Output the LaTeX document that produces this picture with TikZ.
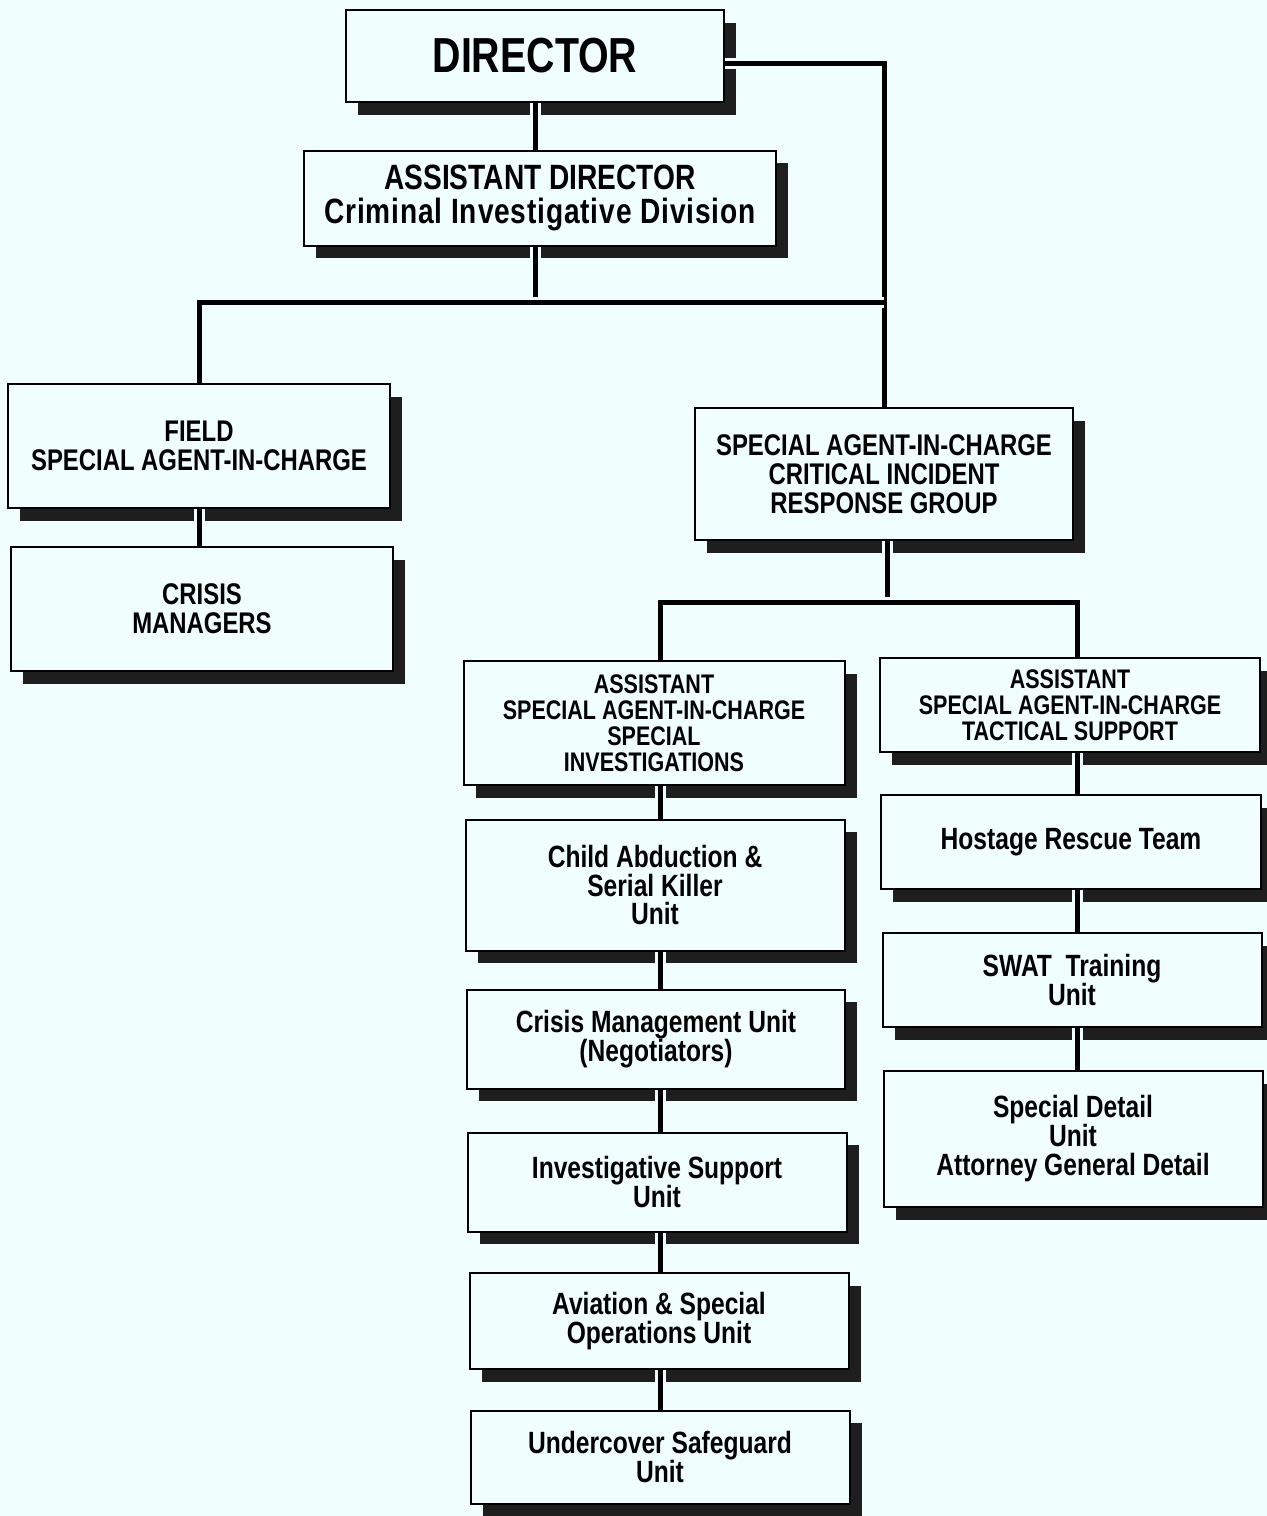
\documentclass[tikz,border=0pt]{standalone}
\usepackage{fontspec}
\setmainfont{Liberation Sans}[FakeStretch=0.8]
\usetikzlibrary{shadows}
\definecolor{paper}{RGB}{240,254,254}
\definecolor{shade}{RGB}{30,30,30}

\tikzset{
  orgbox/.style 2 args={draw, line width=0.04cm, fill=paper, align=center, inner sep=0pt,
    minimum width={#1*0.02cm}, minimum height={#2*0.02cm},
    drop shadow={shadow xshift=0.24cm, shadow yshift=-0.25cm, fill=shade, opacity=1}},
  unit/.style={font=\fontsize{17.5}{16.5}\selectfont\bfseries},
  caps/.style={font=\fontsize{17}{16.5}\selectfont\bfseries},
  asac/.style={font=\fontsize{15.3}{14.8}\selectfont\bfseries},
  link/.style={line width=0.1cm, preaction={draw, paper, line width=0.22cm}},
}

\begin{document}
\begin{tikzpicture}[x=0.02cm, y=-0.02cm]
	\fill[paper] (0,0) rectangle (1267,1516);
	\useasboundingbox (0,0) rectangle (1267,1516);
	% top of the chart
	\node[orgbox={378}{92}, font=\fontsize{28}{30}\selectfont\bfseries] (dir) at (535,56) {DIRECTOR};
	\node[orgbox={472}{95}, font=\fontsize{20}{19.5}\selectfont\bfseries] (ad) at (540,198) {ASSISTANT DIRECTOR\\{\addfontfeature{LetterSpace=2.4}Criminal Investigative Division}};
	\node[orgbox={382}{124}, caps] (fsac) at (199,446) {FIELD\\SPECIAL AGENT-IN-CHARGE};
	\node[orgbox={382}{124}, caps] (crisis) at (202,609) {CRISIS\\MANAGERS};
	\node[orgbox={378}{132}, caps] (cirg) at (884,474) {SPECIAL AGENT-IN-CHARGE\\CRITICAL INCIDENT\\RESPONSE GROUP};
	% special investigations
	\node[orgbox={381}{124}, asac] (asi) at (654,723) {ASSISTANT\\SPECIAL AGENT-IN-CHARGE\\SPECIAL\\INVESTIGATIONS};
	\node[orgbox={379}{131}, unit] (casku) at (655,885) {Child Abduction \&\\Serial Killer\\Unit};
	\node[orgbox={378}{99}, unit] (cmu) at (656,1039) {Crisis Management Unit\\(Negotiators)};
	\node[orgbox={379}{99}, unit] (isu) at (657,1182) {Investigative Support\\Unit};
	\node[orgbox={379}{96}, unit] (asou) at (659,1321) {Aviation \& Special\\Operations Unit};
	\node[orgbox={379}{93}, unit] (usu) at (660,1457) {Undercover Safeguard\\Unit};
	% tactical support
	\node[orgbox={380}{94}, asac] (ats) at (1070,705) {ASSISTANT\\SPECIAL AGENT-IN-CHARGE\\TACTICAL SUPPORT};
	\node[orgbox={380}{94}, unit] (hrt) at (1071,842) {Hostage Rescue Team};
	\node[orgbox={379}{94}, unit] (swat) at (1072,980) {SWAT~~Training\\Unit};
	\node[orgbox={379}{136}, unit] (sdu) at (1073,1139) {Special Detail\\Unit\\Attorney General Detail};
	% connectors
	\coordinate (adbus) at (535,302);
	\coordinate (cirgbus) at (887,602);
	\coordinate (lspine) at (660,0);
	\coordinate (rspine) at (1077,0);
	\draw[link] (dir.south) -- (dir.south |- ad.north);
	\draw[link] ([yshift=-0.14cm]dir.east) -| (cirg.north);
	\draw[link] (ad.south -| adbus) -- (adbus);
	\draw[link] (fsac.north) |- (adbus) -- (adbus -| cirg.north);
	\draw[link] (fsac.south) -- (fsac.south |- crisis.north);
	\draw[link] (cirg.south -| cirgbus) -- (cirgbus);
	\draw[link] (asi.north -| lspine) |- (cirgbus) -| (ats.north -| rspine);
	\draw[link] (asi.south -| lspine) -- (casku.north -| lspine);
	\draw[link] (casku.south -| lspine) -- (cmu.north -| lspine);
	\draw[link] (cmu.south -| lspine) -- (isu.north -| lspine);
	\draw[link] (isu.south -| lspine) -- (asou.north -| lspine);
	\draw[link] (asou.south -| lspine) -- (usu.north -| lspine);
	\draw[link] (ats.south -| rspine) -- (hrt.north -| rspine);
	\draw[link] (hrt.south -| rspine) -- (swat.north -| rspine);
	\draw[link] (swat.south -| rspine) -- (sdu.north -| rspine);
\end{tikzpicture}
\end{document}
